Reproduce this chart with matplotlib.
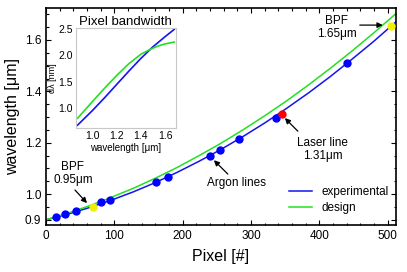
import matplotlib
matplotlib.use("Agg")
import matplotlib.pyplot as plt
from matplotlib.ticker import MultipleLocator

plt.rcParams['font.family'] = ['Liberation Sans', 'DejaVu Sans']

# calibration points (pixel, wavelength in um)
cal_px = [14.6, 27.8, 43.9, 80.0, 93.6, 160.4, 177.9, 239.8, 254.4, 282.6, 335.8, 440.5]
cal_wl = [0.912, 0.922, 0.935, 0.968, 0.979, 1.049, 1.067, 1.148, 1.170, 1.213, 1.298, 1.509]
bpf_px = [68.3, 505.4]
bpf_wl = [0.951, 1.654]
laser_px = [344.6]
laser_wl = [1.311]

# fitted curves
curve_px = [0, 32, 64, 96, 128, 160, 192, 224, 256, 288, 320, 352, 384, 416, 448, 480, 512]
exp_wl = [0.900, 0.922, 0.948, 0.977, 1.009, 1.045, 1.085, 1.128, 1.174, 1.224, 1.277,
          1.334, 1.394, 1.458, 1.526, 1.596, 1.671]
design_wl = [0.900, 0.926, 0.955, 0.988, 1.023, 1.062, 1.104, 1.150, 1.198, 1.250, 1.305,
             1.363, 1.425, 1.490, 1.558, 1.629, 1.703]

# inset: pixel bandwidth vs wavelength
bw_exp_wl = [0.875, 1.0, 1.1, 1.2, 1.3, 1.4, 1.5, 1.6, 1.677]
bw_exp = [0.68, 0.96, 1.20, 1.45, 1.70, 1.94, 2.16, 2.35, 2.49]
bw_des_wl = [0.875, 1.0, 1.1, 1.2, 1.3, 1.4, 1.45, 1.5, 1.55, 1.6, 1.677]
bw_design = [0.81, 1.13, 1.38, 1.62, 1.84, 2.02, 2.08, 2.135, 2.18, 2.215, 2.25]

BLUE = '#1414f0'
GREEN = '#22e022'

fig = plt.figure(figsize=(4.07, 2.72), dpi=100)
ax = fig.add_axes([0.113, 0.173, 0.860, 0.798])

ax.plot(curve_px, exp_wl, color=BLUE, lw=1.1, label='experimental')
ax.plot(curve_px, design_wl, color=GREEN, lw=1.1, label='design')
ax.plot(cal_px, cal_wl, 'o', color='#0000ff', ms=5, zorder=5)
ax.plot(bpf_px, bpf_wl, 'o', color='#f0f000', ms=5, zorder=5)
ax.plot(laser_px, laser_wl, 'o', color='#ff0000', ms=5, zorder=5)

ax.set_xlim(0, 512)
ax.set_ylim(0.88, 1.725)
ax.set_yticks([0.9, 1.0, 1.2, 1.4, 1.6])
ax.set_yticklabels(['0.9', '1.0', '1.2', '1.4', '1.6'])
ax.xaxis.set_major_locator(MultipleLocator(100))
ax.xaxis.set_minor_locator(MultipleLocator(20))
ax.yaxis.set_minor_locator(MultipleLocator(0.05))
ax.tick_params(which='both', direction='in', top=True, right=True, labelsize=8.5, width=0.8)
ax.tick_params(which='major', length=3.5)
ax.tick_params(which='minor', length=1.8)
for s in ax.spines.values():
    s.set_linewidth(1.2)
ax.set_xlabel('Pixel [#]', fontsize=11.5, labelpad=5)
ax.set_ylabel('wavelength [\u03bcm]', fontsize=11.5, labelpad=3)

arrow = dict(arrowstyle='-|>', color='k', lw=0.9, mutation_scale=8, shrinkA=0, shrinkB=0)
ax.text(39.5, 1.080, 'BPF\n0.95\u03bcm', ha='center', va='center', fontsize=8.5, linespacing=1.1)
ax.annotate('', xy=(60, 0.965), xytext=(42.4, 1.016), arrowprops=arrow)
ax.text(425, 1.648, 'BPF\n1.65\u03bcm', ha='center', va='center', fontsize=8.5, linespacing=1.1)
ax.annotate('', xy=(492.7, 1.658), xytext=(459, 1.658), arrowprops=arrow)
ax.text(405, 1.175, 'Laser line\n1.31\u03bcm', ha='center', va='center', fontsize=8.5, linespacing=1.1)
ax.annotate('', xy=(349.4, 1.296), xytext=(368.4, 1.245), arrowprops=arrow)
ax.text(278.8, 1.044, 'Argon lines', ha='center', va='center', fontsize=8.5)
ax.annotate('', xy=(245.6, 1.132), xytext=(266, 1.078), arrowprops=arrow)

ax.legend(loc='lower right', bbox_to_anchor=(1.01, 0.0), frameon=False, fontsize=8.5,
          handlelength=2.0, labelspacing=0.35)

# inset
ins = fig.add_axes([0.186, 0.528, 0.246, 0.368])
ins.plot(bw_exp_wl, bw_exp, color=BLUE, lw=1.2)
ins.plot(bw_des_wl, bw_design, color=GREEN, lw=1.2)
ins.set_xlim(0.86, 1.69)
ins.set_ylim(0.62, 2.51)
ins.set_xticks([1.0, 1.2, 1.4, 1.6])
ins.set_yticks([1.0, 1.5, 2.0, 2.5])
ins.tick_params(direction='in', length=0, labelsize=7.5, pad=2)
for s in ins.spines.values():
    s.set_color('#c8c8c8')
    s.set_linewidth(0.8)
ins.set_title('Pixel bandwidth', fontsize=9.5, pad=2)
ins.set_xlabel('wavelength [\u03bcm]', fontsize=7, labelpad=1)
ins.set_ylabel('d\u03bb [nm]', fontsize=6.5, labelpad=1)

fig.savefig('out.png', dpi=100)
